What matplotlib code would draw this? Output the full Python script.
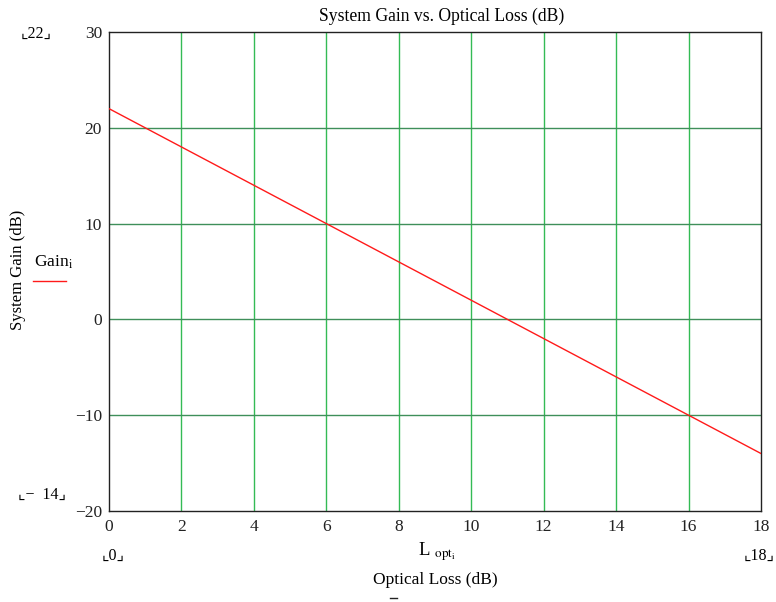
import matplotlib
matplotlib.use("Agg")
import matplotlib.pyplot as plt

loss_db = [0, 2, 4, 6, 8, 10, 12, 14, 16, 18]
gain_db = [22, 18, 14, 10, 6, 2, -2, -6, -10, -14]
x_ticks = [0, 2, 4, 6, 8, 10, 12, 14, 16, 18]
y_ticks = [-20, -10, 0, 10, 20, 30]

plt.rcParams['font.family'] = ['Liberation Serif', 'DejaVu Serif', 'DejaVu Sans']
plt.rcParams['mathtext.fontset'] = 'stix'

fig = plt.figure(figsize=(7.76, 6.02), dpi=100)
W, H = 776, 602
ax = fig.add_axes([109 / W, 1 - 511 / H, (761 - 109) / W, (511 - 32) / H])

ax.plot(loss_db, gain_db, color='#ff1a1a', lw=1.0, zorder=3)
ax.set_xlim(0, 18)
ax.set_ylim(-20, 30)
ax.set_xticks(x_ticks)
ax.set_yticks(y_ticks)
ax.set_xticklabels([str(v) for v in x_ticks])
ax.set_yticklabels([str(v).replace('-', '\u2212') for v in y_ticks])
ax.tick_params(axis='y', length=0, labelsize=12.5, pad=5, colors='#222222')
ax.tick_params(axis='x', length=0, labelsize=12.5, pad=6, colors='#222222')
for x in x_ticks[1:-1]:
    ax.axvline(x, color='#33bb55', lw=1.0, zorder=1)
for y in y_ticks[1:-1]:
    ax.axhline(y, color='#3f8f5a', lw=1.0, zorder=1)
for s in ax.spines.values():
    s.set_color('#222222')
    s.set_linewidth(1.0)

def px(x, y, s, **kw):
    fig.text(x / W, 1 - y / H, s, **kw)

px(442, 16, 'System Gain vs. Optical Loss (dB)', ha='center', va='center', fontsize=12.7)
px(18, 270, 'System Gain (dB)', ha='center', va='center', rotation=90, fontsize=12)
px(34, 262, r'Gain$_{\mathrm{i}}$', ha='left', va='center', fontsize=12.5)
fig.add_artist(plt.Line2D([33 / W, 66 / W], [1 - 281 / H, 1 - 281 / H], color='#ff1a1a', lw=1.0))
px(36, 34, '\u231e22\u231f', ha='center', va='center', fontsize=11.5)
px(42, 495, '\u231e\u2212  14\u231f', ha='center', va='center', fontsize=11.5)
px(113, 556, '\u231e0\u231f', ha='center', va='center', fontsize=11.5)
px(775, 556, '\u231e18\u231f', ha='right', va='center', fontsize=11.5)
px(437, 552, r'L $_{\mathrm{opt}_{\mathrm{i}}}$', ha='center', va='center', fontsize=13.5)
px(435, 580, 'Optical Loss (dB)', ha='center', va='center', fontsize=12.5)
fig.add_artist(plt.Line2D([390 / W, 397 / W], [1 - 598 / H, 1 - 598 / H], color='#222222', lw=1.0))

fig.savefig('out.png', dpi=100)
